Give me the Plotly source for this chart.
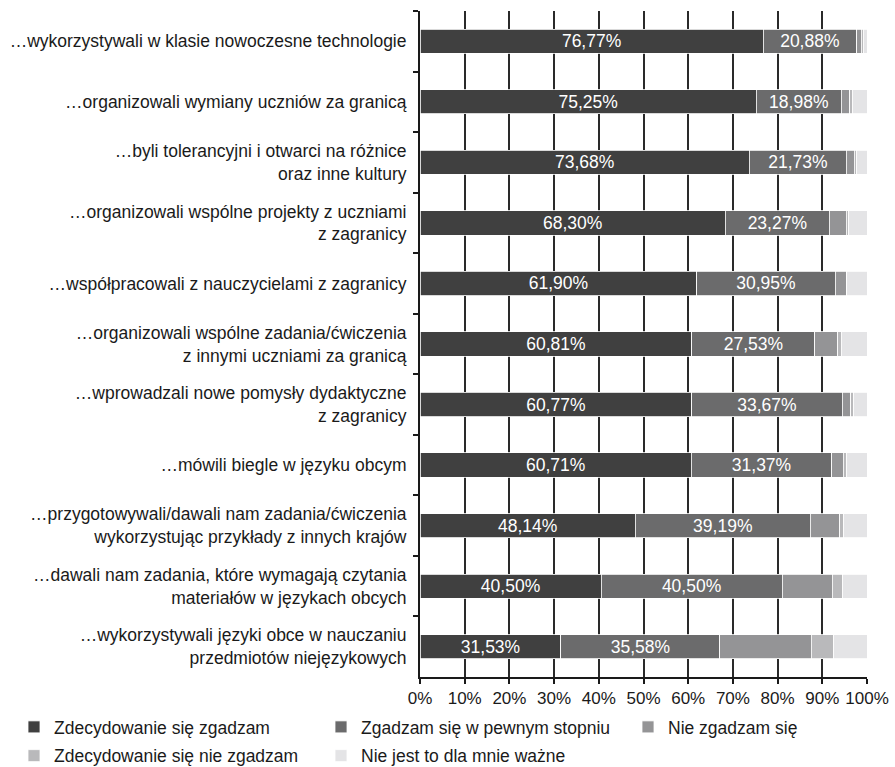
import plotly.graph_objects as go

categories = [
    "…wykorzystywali w klasie nowoczesne technologie",
    "…organizowali wymiany uczniów za granicą",
    "…byli tolerancyjni i otwarci na różnice<br>oraz inne kultury",
    "…organizowali wspólne projekty z uczniami<br>z zagranicy",
    "…współpracowali z nauczycielami z zagranicy",
    "…organizowali wspólne zadania/ćwiczenia<br>z innymi uczniami za granicą",
    "…wprowadzali nowe pomysły dydaktyczne<br>z zagranicy",
    "…mówili biegle w języku obcym",
    "…przygotowywali/dawali nam zadania/ćwiczenia<br>wykorzystując przykłady z innych krajów",
    "…dawali nam zadania, które wymagają czytania<br>materiałów w językach obcych",
    "…wykorzystywali języki obce w nauczaniu<br>przedmiotów niejęzykowych",
]

zdecydowanie_zgadzam = [76.77, 75.25, 73.68, 68.30, 61.90, 60.81, 60.77, 60.71, 48.14, 40.50, 31.53]
zgadzam_w_pewnym = [20.88, 18.98, 21.73, 23.27, 30.95, 27.53, 33.67, 31.37, 39.19, 40.50, 35.58]
nie_zgadzam = [1.1, 1.87, 1.7, 3.8, 2.5, 5.1, 1.87, 2.6, 6.6, 11.2, 20.4]
zdecydowanie_nie = [0.4, 0.6, 0.6, 0.6, 0.1, 0.75, 0.75, 0.75, 0.9, 2.4, 5.0]
nie_wazne = [0.85, 3.3, 2.29, 4.03, 4.55, 5.81, 2.94, 4.57, 5.17, 5.4, 7.49]

x_tick_vals = [0, 10, 20, 30, 40, 50, 60, 70, 80, 90, 100]
x_tick_text = ["0%", "10%", "20%", "30%", "40%", "50%", "60%", "70%", "80%", "90%", "100%"]

series = [
    ("Zdecydowanie się zgadzam", zdecydowanie_zgadzam, "#404040", True, "legend"),
    ("Zgadzam się w pewnym stopniu", zgadzam_w_pewnym, "#6b6b6c", True, "legend2"),
    ("Nie zgadzam się", nie_zgadzam, "#949496", False, "legend3"),
    ("Zdecydowanie się nie zgadzam", zdecydowanie_nie, "#b9b9bb", False, "legend"),
    ("Nie jest to dla mnie ważne", nie_wazne, "#e4e4e6", False, "legend2"),
]

FONT = "Liberation Sans, Arial, sans-serif"
FS = 17.5

def fmt(v):
    return f"{v:.2f}".replace(".", ",") + "%"

fig = go.Figure()
for name, vals, color, labelled, leg in series:
    fig.add_trace(go.Bar(
        name=name,
        y=categories,
        x=vals,
        orientation="h",
        marker=dict(color=color, line=dict(color="white", width=0.8)),
        text=[fmt(v) for v in vals] if labelled else None,
        textposition="inside" if labelled else "none",
        insidetextanchor="middle",
        textangle=0,
        constraintext="none",
        textfont=dict(color="white", size=FS, family=FONT),
        legend=leg,
        legendgroup=name,
        hoverinfo="x+name",
    ))

leg_common = dict(
    orientation="v",
    xref="container", yref="container",
    xanchor="left", yanchor="top",
    bgcolor="rgba(0,0,0,0)",
    borderwidth=0,
    tracegroupgap=3,
    font=dict(size=FS, color="#1a1a1a", family=FONT),
)
y_leg = 1 - 709 / 767

fig.update_layout(
    width=895, height=767,
    margin=dict(l=420, r=28, t=11, b=90, autoexpand=False),
    paper_bgcolor="white",
    plot_bgcolor="white",
    barmode="stack",
    bargap=0.6,
    font=dict(family=FONT, size=FS, color="#1a1a1a"),
    legend=dict(x=14 / 895, y=y_leg, **leg_common),
    legend2=dict(x=321 / 895, y=y_leg, **leg_common),
    legend3=dict(x=628 / 895, y=y_leg, **leg_common),
    xaxis=dict(
        range=[0, 100],
        tickvals=x_tick_vals,
        ticktext=x_tick_text,
        showgrid=True, gridcolor="#2a2a2a", gridwidth=1.5,
        showline=True, linecolor="#1a1a1a", linewidth=2,
        ticks="outside", ticklen=5, tickwidth=1.5, tickcolor="#1a1a1a",
        zeroline=False,
        tickfont=dict(size=17),
        fixedrange=True,
    ),
    yaxis=dict(
        categoryorder="array", categoryarray=categories,
        autorange="reversed",
        showline=True, linecolor="#1a1a1a", linewidth=2,
        ticks="outside", ticklen=5, tickwidth=1.5, tickcolor="#1a1a1a",
        tickson="boundaries",
        showgrid=False,
        ticklabelstandoff=8,
        tickfont=dict(size=FS),
        fixedrange=True,
    ),
)

fig.write_html("out.html")
